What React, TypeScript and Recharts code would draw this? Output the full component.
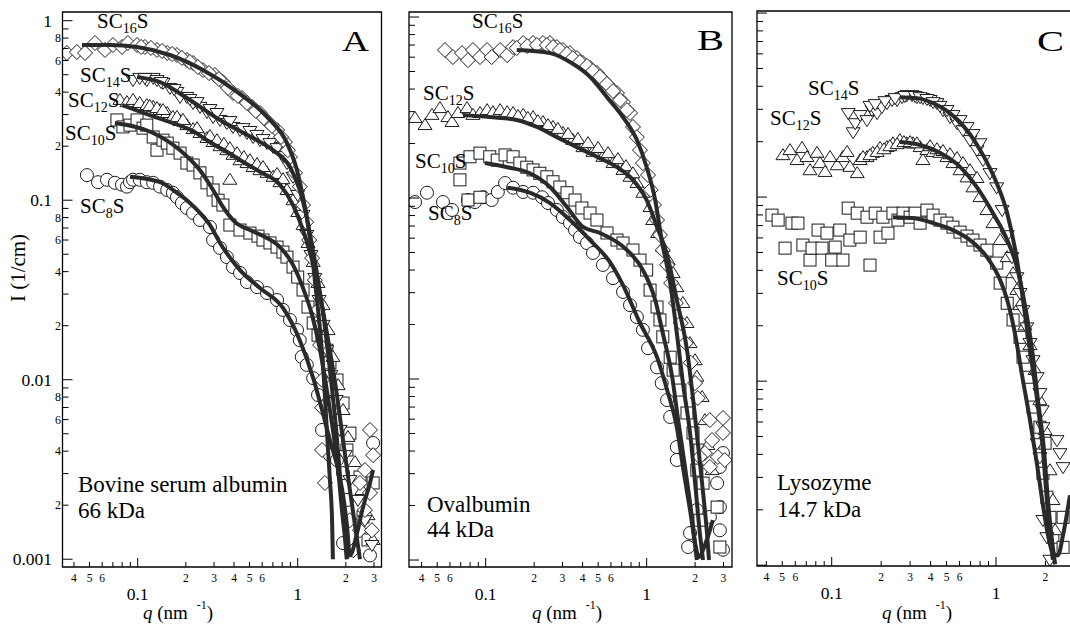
import React from 'react';
import { ComposedChart, Scatter, Line, XAxis, YAxis, ReferenceArea } from 'recharts';

type Pt = [number, number];

// ---- Panel A: bovine serum albumin (q in nm^-1, I in 1/cm) ----
const bsaSC16: Pt[] = [
  [0.0361, 0.661], [0.0417, 0.669], [0.0469, 0.661], [0.0541, 0.751], [0.0625, 0.687], [0.0701, 0.732],
  [0.0798, 0.714], [0.0869, 0.751], [0.0991, 0.732], [0.111, 0.714], [0.132, 0.687], [0.153, 0.661],
  [0.176, 0.644], [0.203, 0.604], [0.222, 0.581], [0.256, 0.531], [0.304, 0.498], [0.341, 0.455],
  [0.394, 0.396], [0.449, 0.371], [0.518, 0.331], [0.581, 0.306], [0.652, 0.273], [0.743, 0.246],
  [0.833, 0.211], [0.895, 0.174], [0.962, 0.142], [1.03, 0.119], [1.08, 0.094], [1.13, 0.0755],
  [1.18, 0.06], [1.23, 0.0476], [1.28, 0.0359], [1.34, 0.0245], [1.38, 0.0156], [1.42, 0.00996],
  [1.42, 0.00698], [1.42, 0.00406], [1.48, 0.00266], [2.83, 0.00525], [2.96, 0.0038], [2.63, 0.00314],
  [2.45, 0.00266], [2.83, 0.00234], [2.63, 0.00188], [2.12, 0.00165], [2.45, 0.00145], [2.91, 0.00145],
  [2.22, 0.00112],
  [0.105, 0.714], [0.121, 0.705], [0.142, 0.678], [0.164, 0.652], [0.189, 0.62], [0.212, 0.589],
  [0.238, 0.552], [0.279, 0.511], [0.322, 0.473], [0.367, 0.422], [0.423, 0.381], [0.482, 0.348],
  [0.548, 0.314], [0.615, 0.287], [0.691, 0.259], [0.787, 0.225], [0.869, 0.19],
];
const bsaSC14: Pt[] = [
  [0.0935, 0.467], [0.103, 0.48], [0.114, 0.467], [0.125, 0.48], [0.132, 0.467], [0.144, 0.45],
  [0.159, 0.422], [0.176, 0.401], [0.184, 0.376], [0.203, 0.376], [0.222, 0.348], [0.245, 0.331],
  [0.271, 0.31], [0.296, 0.291], [0.327, 0.28], [0.361, 0.269], [0.394, 0.256], [0.436, 0.246],
  [0.482, 0.237], [0.526, 0.225], [0.581, 0.216], [0.643, 0.208], [0.701, 0.198], [0.775, 0.186],
  [0.857, 0.161], [0.935, 0.135], [1.0, 0.107], [1.08, 0.0828], [1.14, 0.064], [1.21, 0.0495],
  [1.28, 0.0369], [1.36, 0.0278], [1.44, 0.0202], [1.52, 0.0146], [1.61, 0.0106], [1.74, 0.00771],
  [1.84, 0.00525], [1.98, 0.0038], [2.12, 0.00276], [2.38, 0.00214], [2.63, 0.00165], [2.91, 0.0012],
  [0.111, 0.48], [0.14, 0.455], [0.169, 0.416], [0.212, 0.366], [0.235, 0.352], [0.283, 0.322],
  [0.313, 0.306], [0.377, 0.276], [0.455, 0.252], [0.503, 0.243], [0.557, 0.231], [0.607, 0.219],
  [0.671, 0.208], [0.743, 0.195], [0.821, 0.176],
];
const bsaSC12: Pt[] = [
  [0.0775, 0.362], [0.0857, 0.352], [0.0935, 0.362], [0.103, 0.348], [0.114, 0.339], [0.125, 0.331],
  [0.138, 0.318], [0.153, 0.306], [0.166, 0.291], [0.184, 0.276], [0.203, 0.262], [0.222, 0.249],
  [0.245, 0.237], [0.271, 0.222], [0.296, 0.211], [0.327, 0.2], [0.361, 0.19], [0.394, 0.179],
  [0.436, 0.167], [0.482, 0.161], [0.526, 0.153], [0.581, 0.147], [0.643, 0.142], [0.701, 0.135],
  [0.775, 0.126], [0.857, 0.114], [0.935, 0.1], [1.0, 0.0859], [1.08, 0.0727], [1.16, 0.0578],
  [1.25, 0.0453], [1.34, 0.0346], [1.44, 0.0261], [1.55, 0.0189], [1.66, 0.0134], [1.79, 0.00933],
  [1.92, 0.00678], [2.06, 0.0048], [2.28, 0.00348], [2.52, 0.00243], [2.75, 0.00176], [2.96, 0.00128],
  [0.377, 0.13],
  [0.119, 0.335], [0.132, 0.326], [0.144, 0.318], [0.176, 0.291], [0.192, 0.28], [0.235, 0.252],
  [0.283, 0.228], [0.313, 0.216], [0.346, 0.206], [0.377, 0.195], [0.418, 0.183], [0.461, 0.174],
  [0.503, 0.167], [0.557, 0.159], [0.607, 0.153], [0.743, 0.14], [0.809, 0.131],
];
const bsaSC10: Pt[] = [
  [0.0742, 0.28], [0.0809, 0.256], [0.0895, 0.262], [0.0991, 0.28], [0.108, 0.252], [0.114, 0.262],
  [0.125, 0.225], [0.132, 0.19], [0.144, 0.216], [0.153, 0.208], [0.166, 0.195], [0.184, 0.183],
  [0.203, 0.161], [0.222, 0.157], [0.245, 0.142], [0.271, 0.125], [0.296, 0.114], [0.318, 0.1],
  [0.341, 0.094], [0.377, 0.0727], [0.436, 0.0682], [0.503, 0.0656], [0.565, 0.0631], [0.607, 0.06],
  [0.671, 0.0578], [0.743, 0.0548], [0.809, 0.0514], [0.857, 0.0482], [0.935, 0.0424], [1.0, 0.0373],
  [1.08, 0.0316], [1.16, 0.0254], [1.25, 0.0207], [1.34, 0.0177], [1.42, 0.0173], [1.52, 0.0146],
  [1.59, 0.0124], [1.76, 0.00996], [1.92, 0.00741], [2.12, 0.00504], [2.03, 0.00406], [2.45, 0.00287],
  [2.96, 0.00266], [2.56, 0.00172], [2.75, 0.00128],
];
const bsaSC8: Pt[] = [
  [0.0482, 0.138], [0.0565, 0.126], [0.0643, 0.13], [0.0721, 0.125], [0.0798, 0.122], [0.0857, 0.119],
  [0.0895, 0.126], [0.0935, 0.13], [0.103, 0.13], [0.114, 0.126], [0.125, 0.125], [0.138, 0.119],
  [0.153, 0.114], [0.166, 0.11], [0.176, 0.104], [0.189, 0.0965], [0.203, 0.0905], [0.222, 0.0849],
  [0.245, 0.0776], [0.283, 0.0709], [0.296, 0.06], [0.327, 0.0542], [0.361, 0.0482], [0.394, 0.0424],
  [0.436, 0.0393], [0.482, 0.035], [0.557, 0.0328], [0.643, 0.0304], [0.743, 0.0278], [0.809, 0.0245],
  [0.895, 0.0215], [0.99, 0.0189], [1.03, 0.0166], [1.06, 0.0134], [1.14, 0.0121], [1.25, 0.0102],
  [1.34, 0.00822], [1.42, 0.00525], [1.59, 0.0038], [1.76, 0.00357], [1.92, 0.00302], [2.03, 0.00214],
  [1.92, 0.00123], [2.83, 0.00105], [2.96, 0.00444],
];
const bsaFit16: Pt[] = [
  [0.0449, 0.732], [0.0671, 0.732], [0.0991, 0.714], [0.159, 0.644], [0.256, 0.531], [0.418, 0.401],
  [0.643, 0.291], [0.857, 0.208], [0.99, 0.147], [1.08, 0.104], [1.16, 0.0727], [1.23, 0.0495],
  [1.3, 0.0316], [1.38, 0.0189], [1.46, 0.00996], [1.52, 0.00525], [1.59, 0.00276], [1.64, 0.00165],
  [1.66, 0.001],
];
const bsaFit14: Pt[] = [
  [0.0991, 0.486], [0.138, 0.455], [0.203, 0.371], [0.327, 0.28], [0.526, 0.222], [0.701, 0.19],
  [0.895, 0.153], [1.03, 0.114], [1.13, 0.0828], [1.23, 0.0562], [1.34, 0.0359], [1.46, 0.0215],
  [1.59, 0.0113], [1.74, 0.00525], [1.87, 0.00243], [1.98, 0.00145], [2.03, 0.001],
];
const bsaFit12: Pt[] = [
  [0.0798, 0.339], [0.119, 0.298], [0.166, 0.269], [0.222, 0.243], [0.271, 0.216], [0.361, 0.186],
  [0.469, 0.161], [0.581, 0.144], [0.775, 0.122], [0.935, 0.094], [1.08, 0.0682], [1.23, 0.0464],
  [1.38, 0.0296], [1.55, 0.0166], [1.74, 0.00877], [1.92, 0.00461], [2.12, 0.00243], [2.28, 0.00155],
  [2.45, 0.001],
];
const bsaFit10: Pt[] = [
  [0.0721, 0.269], [0.125, 0.237], [0.184, 0.19], [0.245, 0.147], [0.296, 0.114], [0.341, 0.0917],
  [0.406, 0.0755], [0.503, 0.0682], [0.625, 0.0624], [0.775, 0.0548], [0.935, 0.0436], [1.08, 0.0324],
  [1.23, 0.0229], [1.38, 0.0146], [1.52, 0.00877], [1.66, 0.00525], [1.79, 0.00314], [1.89, 0.00188],
  [1.98, 0.00128], [2.03, 0.001],
];
const bsaFit8: Pt[] = [
  [0.0895, 0.135], [0.138, 0.126], [0.176, 0.11], [0.203, 0.1], [0.245, 0.0849], [0.283, 0.0727],
  [0.327, 0.0578], [0.436, 0.0408], [0.581, 0.0324], [0.809, 0.0251], [1.03, 0.0166], [1.25, 0.0102],
  [1.42, 0.00678], [1.59, 0.00461], [1.76, 0.00335], [1.92, 0.00228], [2.03, 0.00155], [2.12, 0.00105],
  [2.35, 0.0014], [2.56, 0.00195], [2.83, 0.00266], [2.96, 0.00314],
];

// ---- Panel B: ovalbumin ----
const ovaSC16: Pt[] = [
  [0.0559, 0.657], [0.0626, 0.601], [0.0713, 0.632], [0.0777, 0.578], [0.0834, 0.657], [0.0922, 0.601],
  [0.102, 0.657], [0.109, 0.601], [0.123, 0.657], [0.136, 0.616], [0.148, 0.682], [0.171, 0.718],
  [0.197, 0.718], [0.227, 0.718], [0.251, 0.718], [0.277, 0.682], [0.302, 0.657], [0.334, 0.632],
  [0.369, 0.593], [0.402, 0.557], [0.445, 0.523], [0.491, 0.491], [0.535, 0.449], [0.592, 0.41],
  [0.654, 0.38], [0.713, 0.339], [0.788, 0.295], [0.822, 0.247], [0.869, 0.217], [0.909, 0.184],
  [0.948, 0.156], [1.02, 0.134], [1.06, 0.111], [1.11, 0.0915], [1.16, 0.0756], [1.21, 0.0625],
  [1.26, 0.0516], [1.34, 0.0427], [1.42, 0.0339], [1.52, 0.0263], [1.63, 0.0204], [1.75, 0.0158],
  [1.88, 0.0123], [2.0, 0.0095], [2.08, 0.00785], [2.47, 0.00593], [2.98, 0.00609], [2.98, 0.00504],
  [2.55, 0.0046], [2.3, 0.0039], [2.77, 0.00371], [3.06, 0.00357], [2.14, 0.00371], [2.47, 0.00327],
  [0.156, 0.674], [0.181, 0.691], [0.208, 0.7], [0.24, 0.7], [0.262, 0.682], [0.289, 0.657],
  [0.32, 0.625], [0.348, 0.593], [0.385, 0.564], [0.426, 0.536], [0.464, 0.503], [0.513, 0.467],
  [0.567, 0.427], [0.618, 0.39], [0.683, 0.348], [0.755, 0.306],
];
const ovaSC12: Pt[] = [
  [0.0364, 0.277], [0.042, 0.253], [0.0464, 0.288], [0.052, 0.314], [0.0583, 0.28], [0.0618, 0.263],
  [0.0673, 0.295], [0.0766, 0.314], [0.0834, 0.288], [0.0922, 0.295], [0.102, 0.306], [0.111, 0.298],
  [0.123, 0.306], [0.136, 0.298], [0.148, 0.295], [0.171, 0.288], [0.197, 0.28], [0.227, 0.263],
  [0.262, 0.247], [0.302, 0.229], [0.348, 0.209], [0.402, 0.191], [0.464, 0.18], [0.535, 0.169],
  [0.618, 0.156], [0.713, 0.143], [0.788, 0.131], [0.87, 0.121], [0.948, 0.107], [1.05, 0.0892],
  [1.09, 0.0756], [1.17, 0.0641], [1.26, 0.0536], [1.36, 0.0454], [1.46, 0.0385], [1.54, 0.0322],
  [1.68, 0.0263], [1.78, 0.0204], [1.86, 0.0158], [2.0, 0.0127], [2.05, 0.0103], [2.21, 0.00796],
  [2.3, 0.00593], [2.4, 0.00432], [2.55, 0.00314],
  [0.159, 0.284], [0.183, 0.277], [0.211, 0.266], [0.244, 0.253], [0.281, 0.241], [0.325, 0.226],
  [0.374, 0.212], [0.432, 0.201], [0.499, 0.189], [0.575, 0.177], [0.663, 0.164], [0.744, 0.15],
  [0.822, 0.137],
];
const ovaSC10: Pt[] = [
  [0.0692, 0.156], [0.0692, 0.126], [0.0777, 0.0975], [0.0799, 0.169], [0.0922, 0.177], [0.0922, 0.101],
  [0.106, 0.169], [0.118, 0.162], [0.132, 0.173], [0.148, 0.169], [0.163, 0.156], [0.18, 0.148],
  [0.197, 0.143], [0.217, 0.137], [0.24, 0.131], [0.262, 0.123], [0.289, 0.115], [0.32, 0.107],
  [0.359, 0.0975], [0.396, 0.0881], [0.445, 0.0826], [0.491, 0.0756], [0.567, 0.0641], [0.654, 0.0586],
  [0.713, 0.0564], [0.822, 0.0516], [0.909, 0.0454], [1.0, 0.04], [1.05, 0.031], [1.16, 0.025],
  [1.21, 0.0212], [1.26, 0.0171], [1.4, 0.0132], [1.46, 0.0112], [1.61, 0.00869], [1.78, 0.00649],
  [1.94, 0.00504], [2.14, 0.00405], [2.05, 0.00314], [2.24, 0.00266], [2.74, 0.00196], [2.85, 0.00118],
  [2.14, 0.00166],
];
const ovaSC8: Pt[] = [
  [0.0364, 0.095], [0.0432, 0.107], [0.0543, 0.095], [0.0618, 0.0859], [0.0777, 0.0975], [0.0859, 0.095],
  [0.0962, 0.101], [0.109, 0.0975], [0.119, 0.108], [0.132, 0.121], [0.148, 0.114], [0.171, 0.108],
  [0.197, 0.107], [0.224, 0.101], [0.244, 0.0938], [0.277, 0.0859], [0.302, 0.0785], [0.334, 0.0727],
  [0.359, 0.0666], [0.385, 0.0609], [0.426, 0.0564], [0.464, 0.0497], [0.535, 0.0427], [0.618, 0.0361],
  [0.713, 0.0303], [0.788, 0.0256], [0.87, 0.022], [0.948, 0.0187], [1.02, 0.0148], [1.16, 0.0116],
  [1.24, 0.0095], [1.34, 0.00765], [1.4, 0.00617], [1.54, 0.00421], [1.54, 0.00357], [2.98, 0.0039],
  [2.85, 0.00327], [2.74, 0.00266], [2.85, 0.00196], [2.47, 0.00173], [2.05, 0.00189], [1.86, 0.00141],
  [1.81, 0.00118], [2.85, 0.00146], [2.98, 0.00114],
];
const ovaFit16: Pt[] = [
  [0.156, 0.657], [0.251, 0.632], [0.334, 0.564], [0.445, 0.467], [0.567, 0.361], [0.713, 0.28],
  [0.87, 0.209], [1.0, 0.148], [1.13, 0.0975], [1.24, 0.0586], [1.4, 0.0339], [1.54, 0.0179],
  [1.68, 0.0095], [1.86, 0.00504], [2.0, 0.00266], [2.14, 0.00141], [2.24, 0.001],
];
const ovaFit12: Pt[] = [
  [0.0723, 0.288], [0.106, 0.28], [0.156, 0.27], [0.208, 0.247], [0.277, 0.217], [0.369, 0.191],
  [0.491, 0.169], [0.654, 0.148], [0.822, 0.126], [1.0, 0.0975], [1.16, 0.0692], [1.34, 0.0484],
  [1.54, 0.0273], [1.78, 0.0145], [2.0, 0.00617], [2.21, 0.00266], [2.37, 0.00141], [2.44, 0.001],
];
const ovaFit10: Pt[] = [
  [0.099, 0.156], [0.136, 0.148], [0.188, 0.137], [0.251, 0.115], [0.32, 0.0892], [0.402, 0.0692],
  [0.513, 0.0641], [0.755, 0.0516], [0.948, 0.04], [1.13, 0.0273], [1.26, 0.0179], [1.44, 0.0103],
  [1.56, 0.00617], [1.73, 0.00327], [1.91, 0.00173], [2.05, 0.001],
];
const ovaFit8: Pt[] = [
  [0.136, 0.114], [0.188, 0.107], [0.251, 0.0938], [0.334, 0.0756], [0.445, 0.0586], [0.592, 0.0442],
  [0.713, 0.033], [0.909, 0.0204], [1.16, 0.0132], [1.34, 0.00869], [1.54, 0.00543], [1.68, 0.00327],
  [1.86, 0.00189], [2.0, 0.00124], [2.11, 0.00104], [2.3, 0.00121], [2.58, 0.00166],
];

// ---- Panel C: lysozyme ----
const lysSC14: Pt[] = [
  [0.126, 0.286], [0.135, 0.225], [0.139, 0.252], [0.149, 0.279], [0.164, 0.262], [0.176, 0.297],
  [0.189, 0.286], [0.202, 0.308], [0.217, 0.324], [0.233, 0.337], [0.25, 0.337], [0.268, 0.349],
  [0.287, 0.358], [0.308, 0.358], [0.33, 0.349], [0.359, 0.345], [0.397, 0.337], [0.437, 0.324],
  [0.476, 0.297], [0.525, 0.272], [0.579, 0.252], [0.63, 0.231], [0.695, 0.204], [0.766, 0.18],
  [0.834, 0.159], [0.919, 0.135], [1.01, 0.113], [1.09, 0.085], [1.17, 0.0621], [1.25, 0.0472],
  [1.34, 0.0367], [1.4, 0.0301], [1.46, 0.0243], [1.54, 0.0196], [1.61, 0.0161], [1.68, 0.013],
  [1.78, 0.0105], [1.85, 0.00861], [1.91, 0.00695], [1.93, 0.00562], [1.78, 0.0046], [1.85, 0.00386],
  [2.35, 0.00478], [2.45, 0.00406], [2.56, 0.00341], [1.93, 0.00176], [2.04, 0.00142], [2.13, 0.00107],
  [0.171, 0.313], [0.184, 0.32], [0.211, 0.332], [0.243, 0.345], [0.279, 0.354], [0.322, 0.354],
  [0.345, 0.349], [0.38, 0.341], [0.414, 0.328], [0.456, 0.313], [0.503, 0.297], [0.547, 0.279],
  [0.604, 0.262], [0.666, 0.24], [0.724, 0.22], [0.799, 0.196],
];
const lysSC12: Pt[] = [
  [0.0505, 0.169], [0.0557, 0.18], [0.0615, 0.159], [0.066, 0.185], [0.0707, 0.165], [0.0738, 0.14],
  [0.0814, 0.174], [0.0849, 0.153], [0.0911, 0.137], [0.0977, 0.165], [0.108, 0.149], [0.117, 0.165],
  [0.124, 0.176], [0.129, 0.146], [0.143, 0.135], [0.149, 0.159], [0.164, 0.165], [0.178, 0.174],
  [0.197, 0.185], [0.217, 0.187], [0.236, 0.196], [0.26, 0.204], [0.287, 0.196], [0.313, 0.196],
  [0.345, 0.187], [0.359, 0.159], [0.38, 0.18], [0.414, 0.176], [0.456, 0.174], [0.503, 0.165],
  [0.547, 0.153], [0.604, 0.14], [0.666, 0.128], [0.724, 0.113], [0.799, 0.1], [0.881, 0.085],
  [0.959, 0.0722], [1.06, 0.0584], [1.17, 0.0472], [1.27, 0.0386], [1.34, 0.0313], [1.4, 0.0259],
  [1.5, 0.0201], [1.61, 0.0157], [1.73, 0.0115], [1.85, 0.00788], [1.99, 0.00542], [2.13, 0.00328],
  [2.22, 0.00226], [2.29, 0.00155],
  [0.155, 0.165], [0.171, 0.169], [0.189, 0.176], [0.208, 0.182], [0.226, 0.189], [0.25, 0.194],
  [0.275, 0.199], [0.3, 0.199], [0.33, 0.196], [0.397, 0.189], [0.437, 0.182], [0.476, 0.178],
  [0.525, 0.171], [0.579, 0.163], [0.63, 0.153], [0.695, 0.14], [0.766, 0.127],
];
const lysSC10: Pt[] = [
  [0.0433, 0.0798], [0.0472, 0.075], [0.052, 0.0528], [0.0573, 0.0722], [0.0623, 0.0722], [0.0668, 0.0549],
  [0.0738, 0.0455], [0.0759, 0.0528], [0.0826, 0.0662], [0.0873, 0.0528], [0.0936, 0.0637], [0.1, 0.0455],
  [0.105, 0.0535], [0.112, 0.0662], [0.117, 0.0455], [0.126, 0.0871], [0.129, 0.0584], [0.143, 0.0818],
  [0.149, 0.0606], [0.164, 0.0778], [0.171, 0.0427], [0.184, 0.0818], [0.197, 0.0606], [0.205, 0.0778],
  [0.22, 0.0637], [0.236, 0.0818], [0.253, 0.075], [0.272, 0.0818], [0.3, 0.0778], [0.322, 0.0818],
  [0.345, 0.0722], [0.38, 0.085], [0.414, 0.0798], [0.456, 0.075], [0.503, 0.0722], [0.547, 0.0687],
  [0.604, 0.0645], [0.666, 0.0614], [0.724, 0.0584], [0.799, 0.0549], [0.881, 0.0515], [1.01, 0.0438],
  [1.06, 0.0341], [1.17, 0.0265], [1.27, 0.0215], [1.4, 0.0173], [1.46, 0.0135], [1.57, 0.0105],
  [1.68, 0.00723], [1.85, 0.00562], [1.99, 0.0046], [1.93, 0.00316], [2.04, 0.00234], [2.13, 0.00182],
  [2.22, 0.00142], [2.56, 0.00125], [2.56, 0.00182],
];
const lysFit14: Pt[] = [
  [0.26, 0.349], [0.33, 0.345], [0.414, 0.324], [0.525, 0.286], [0.666, 0.231], [0.834, 0.169],
  [1.01, 0.119], [1.17, 0.0818], [1.31, 0.0515], [1.46, 0.0276], [1.61, 0.0147], [1.78, 0.00788],
  [1.93, 0.00422], [2.04, 0.00226], [2.13, 0.00146], [2.22, 0.00107],
];
const lysFit12: Pt[] = [
  [0.26, 0.199], [0.345, 0.192], [0.456, 0.174], [0.604, 0.146], [0.766, 0.113], [0.959, 0.0818],
  [1.17, 0.0584], [1.34, 0.0417], [1.5, 0.0259], [1.66, 0.0147], [1.8, 0.00788], [1.96, 0.00422],
  [2.07, 0.00226], [2.19, 0.00137], [2.29, 0.00101],
];
const lysFit10: Pt[] = [
  [0.236, 0.0778], [0.313, 0.0769], [0.414, 0.0722], [0.547, 0.0662], [0.695, 0.0584], [0.881, 0.0472],
  [1.06, 0.0354], [1.17, 0.0276], [1.31, 0.0178], [1.44, 0.0108], [1.61, 0.00614], [1.78, 0.00349],
  [1.93, 0.00212], [2.07, 0.00146], [2.22, 0.00116], [2.38, 0.00113], [2.56, 0.00146], [2.82, 0.0024],
];

// ---- axis ticks ----
const xMajorTicks = [0.1, 1];
const xMinorTicks = [0.04, 0.05, 0.06, 0.07, 0.08, 0.09, 0.2, 0.3, 0.4, 0.5, 0.6, 0.7, 0.8, 0.9, 2, 3];
const xLabelledMinor = [0.04, 0.05, 0.06, 0.2, 0.3, 0.4, 0.5, 0.6, 2, 3];
const yMajorTicks = [0.001, 0.01, 0.1, 1];
const yMinorTicks = [
  0.002, 0.003, 0.004, 0.005, 0.006, 0.007, 0.008, 0.009,
  0.02, 0.03, 0.04, 0.05, 0.06, 0.07, 0.08, 0.09,
  0.2, 0.3, 0.4, 0.5, 0.6, 0.7, 0.8, 0.9,
];
const yLabelledMinor = [0.002, 0.004, 0.006, 0.008, 0.02, 0.04, 0.06, 0.08, 0.2, 0.4, 0.6, 0.8];
const xTicks = [...xMajorTicks, ...xMinorTicks].sort((a, b) => a - b);
const yTicks = [...yMajorTicks, ...yMinorTicks].sort((a, b) => a - b);

const SERIF = '"Liberation Serif", "DejaVu Serif", Times, serif';
const INK = '#1c1c1c';
const FIT = '#2a2a2a';

const leadDigit = (v: number) => String(Math.round(v / Math.pow(10, Math.floor(Math.log10(v) + 1e-9))));

const toRows = (pts: Pt[]) => pts.map(([q, I]) => ({ q, I }));

// marker shapes (open symbols with white fill)
const diamond = (p: any) =>
  p.cx == null ? <g /> : (
    <path d={`M${p.cx},${p.cy - 7.5}L${p.cx + 7.5},${p.cy}L${p.cx},${p.cy + 7.5}L${p.cx - 7.5},${p.cy}Z`} fill="#fff" stroke={INK} strokeWidth={1} />
  );
const triDown = (p: any) =>
  p.cx == null ? <g /> : (
    <path d={`M${p.cx - 7},${p.cy - 4.5}L${p.cx + 7},${p.cy - 4.5}L${p.cx},${p.cy + 6.5}Z`} fill="#fff" stroke={INK} strokeWidth={1} />
  );
const triUp = (p: any) =>
  p.cx == null ? <g /> : (
    <path d={`M${p.cx - 7},${p.cy + 4.5}L${p.cx + 7},${p.cy + 4.5}L${p.cx},${p.cy - 6.5}Z`} fill="#fff" stroke={INK} strokeWidth={1} />
  );
const square = (p: any) =>
  p.cx == null ? <g /> : <rect x={p.cx - 6} y={p.cy - 6} width={12} height={12} fill="#fff" stroke={INK} strokeWidth={1} />;
const circle = (p: any) =>
  p.cx == null ? <g /> : <circle cx={p.cx} cy={p.cy} r={6.5} fill="#fff" stroke={INK} strokeWidth={1} />;

const XTick = (props: any) => {
  const { x, y, payload, labelMax } = props;
  const v = payload.value;
  const major = xMajorTicks.includes(v);
  const label = v > labelMax ? null : major ? String(v) : xLabelledMinor.includes(v) ? leadDigit(v) : null;
  return (
    <g>
      <line x1={x} x2={x} y1={y} y2={y - (major ? 9 : 5)} stroke="#000" strokeWidth={1} />
      {label && (
        <text x={x} y={y + (major ? 33 : 15)} textAnchor="middle" fontFamily={SERIF} fontSize={major ? 17.5 : 11.5} fill="#000">
          {label}
        </text>
      )}
    </g>
  );
};

const YTick = (props: any) => {
  const { x, y, payload, showLabels } = props;
  const v = payload.value;
  const major = yMajorTicks.includes(v);
  const label = !showLabels ? null : major ? String(v) : yLabelledMinor.includes(v) ? leadDigit(v) : null;
  return (
    <g>
      <line x1={x} x2={x + (major ? 10 : 6)} y1={y} y2={y} stroke="#000" strokeWidth={1} />
      {label && (
        <text
          x={major ? x - 10.5 : x - 1.5}
          y={y}
          dy={major ? 6 : 4}
          textAnchor="end"
          fontFamily={SERIF}
          fontSize={major ? 17.5 : 12}
          fill="#000"
        >
          {label}
        </text>
      )}
    </g>
  );
};

interface PanelProps {
  left: number;
  width: number;
  top: number;
  right: number;
  yAxisWidth: number;
  xAxisHeight: number;
  xDomain: [number, number];
  yDomain: [number, number];
  showYLabels: boolean;
  xLabelMax: number;
  series: { pts: Pt[]; shape: (p: any) => React.ReactElement }[];
  fits: Pt[][];
}

// Two stacked charts with identical geometry: markers below, fitted curves on top.
const Panel = (p: PanelProps) => {
  const axes = (withTicks: boolean) => [
    <XAxis
      key="x"
      dataKey="q"
      type="number"
      scale="log"
      domain={p.xDomain}
      allowDataOverflow
      ticks={xTicks}
      interval={0}
      axisLine={false}
      tickLine={false}
      tickSize={0}
      tickMargin={0}
      height={p.xAxisHeight}
      tick={withTicks ? (t: any) => <XTick {...t} labelMax={p.xLabelMax} /> : false}
    />,
    <YAxis
      key="y"
      dataKey="I"
      type="number"
      scale="log"
      domain={p.yDomain}
      allowDataOverflow
      ticks={yTicks}
      interval={0}
      axisLine={false}
      tickLine={false}
      tickSize={0}
      tickMargin={0}
      width={p.yAxisWidth}
      tick={withTicks ? (t: any) => <YTick {...t} showLabels={p.showYLabels} /> : false}
    />,
  ];
  const margin = { top: p.top, right: p.right, bottom: 0, left: 0 };
  return (
    <>
      <div style={{ position: 'absolute', left: p.left, top: 0 }}>
        <ComposedChart width={p.width} height={625} margin={margin}>
          {axes(true)}
          {p.series.map((s, i) => (
            <Scatter key={'s' + i} data={toRows(s.pts)} dataKey="I" shape={s.shape} isAnimationActive={false} />
          ))}
        </ComposedChart>
      </div>
      <div style={{ position: 'absolute', left: p.left, top: 0, pointerEvents: 'none' }}>
        <ComposedChart width={p.width} height={625} margin={margin}>
          {axes(false)}
          {p.fits.map((f, i) => (
            <Line
              key={'f' + i}
              data={toRows(f)}
              dataKey="I"
              type="monotone"
              stroke={FIT}
              strokeWidth={4}
              dot={false}
              activeDot={false}
              isAnimationActive={false}
            />
          ))}
          <ReferenceArea
            x1={p.xDomain[0]}
            x2={p.xDomain[1]}
            y1={p.yDomain[0]}
            y2={p.yDomain[1]}
            fill="none"
            fillOpacity={0}
            stroke="#000"
            strokeWidth={1.3}
            ifOverflow="visible"
          />
        </ComposedChart>
      </div>
    </>
  );
};

const SCLabel = ({ x, y, n }: { x: number; y: number; n: string }) => (
  <text x={x} y={y} fontFamily={SERIF} fontSize={21} fill="#000">
    SC
    <tspan fontSize={14} dy={5}>
      {n}
    </tspan>
    <tspan dy={-5}>S</tspan>
  </text>
);

const QTitle = ({ x }: { x: number }) => (
  <text x={x} y={619} fontFamily={SERIF} fontSize={19} fill="#000">
    <tspan fontStyle="italic">q</tspan> (nm
    <tspan dx={9} dy={-10} fontSize={12}>
      -1
    </tspan>
    <tspan dy={10}>)</tspan>
  </text>
);

const Letter = ({ x, y, c }: { x: number; y: number; c: string }) => (
  <text x={x} y={y} fontFamily={SERIF} fontSize={29} fill="#000" textLength={27} lengthAdjust="spacingAndGlyphs">
    {c}
  </text>
);

export default function App() {
  return (
    <div style={{ position: 'fixed', left: 0, top: 0, width: 1070, height: 625, overflow: 'hidden', background: '#fff' }}>
      <Panel
        left={0}
        width={400}
        top={12}
        right={18.5}
        yAxisWidth={62.5}
        xAxisHeight={58}
        xDomain={[0.0339, 3.34]}
        yDomain={[0.000905, 1.118]}
        showYLabels
        xLabelMax={10}
        series={[
          { pts: bsaSC8, shape: circle },
          { pts: bsaSC10, shape: square },
          { pts: bsaSC12, shape: triUp },
          { pts: bsaSC14, shape: triDown },
          { pts: bsaSC16, shape: diamond },
        ]}
        fits={[bsaFit16, bsaFit14, bsaFit12, bsaFit10, bsaFit8]}
      />
      <Panel
        left={400}
        width={345}
        top={12}
        right={13}
        yAxisWidth={9}
        xAxisHeight={58}
        xDomain={[0.0334, 3.39]}
        yDomain={[0.000915, 1.066]}
        showYLabels={false}
        xLabelMax={10}
        series={[
          { pts: ovaSC8, shape: circle },
          { pts: ovaSC10, shape: square },
          { pts: ovaSC12, shape: triUp },
          { pts: ovaSC16, shape: diamond },
        ]}
        fits={[ovaFit16, ovaFit12, ovaFit10, ovaFit8]}
      />
      <Panel
        left={700}
        width={390}
        top={11}
        right={11}
        yAxisWidth={57}
        xAxisHeight={59}
        xDomain={[0.0351, 3.2]}
        yDomain={[0.00099, 1.026]}
        showYLabels={false}
        xLabelMax={2.5}
        series={[
          { pts: lysSC10, shape: square },
          { pts: lysSC12, shape: triUp },
          { pts: lysSC14, shape: triDown },
        ]}
        fits={[lysFit14, lysFit12, lysFit10]}
      />
      <svg width={1070} height={625} style={{ position: 'absolute', left: 0, top: 0, pointerEvents: 'none' }}>
        <text transform="translate(25,268) rotate(-90)" textAnchor="middle" fontFamily={SERIF} fontSize={21} fill="#000">
          I (1/cm)
        </text>
        <QTitle x={143} />
        <QTitle x={532} />
        <QTitle x={882} />
        <Letter x={342} y={51} c="A" />
        <Letter x={697} y={50} c="B" />
        <Letter x={1037} y={51} c="C" />
        <SCLabel x={97} y={28} n="16" />
        <SCLabel x={80} y={82} n="14" />
        <SCLabel x={68} y={107} n="12" />
        <SCLabel x={65} y={140} n="10" />
        <SCLabel x={80} y={213} n="8" />
        <SCLabel x={472} y={28} n="16" />
        <SCLabel x={423} y={100} n="12" />
        <SCLabel x={415} y={168} n="10" />
        <SCLabel x={428} y={220} n="8" />
        <SCLabel x={808} y={95} n="14" />
        <SCLabel x={770} y={125} n="12" />
        <SCLabel x={777} y={285} n="10" />
        <g fontFamily={SERIF} fontSize={23} fill="#000">
          <text x={78} y={492}>Bovine serum albumin</text>
          <text x={78} y={518}>66 kDa</text>
          <text x={427} y={512}>Ovalbumin</text>
          <text x={427} y={537}>44 kDa</text>
          <text x={777} y={490}>Lysozyme</text>
          <text x={777} y={517}>14.7 kDa</text>
        </g>
      </svg>
    </div>
  );
}
